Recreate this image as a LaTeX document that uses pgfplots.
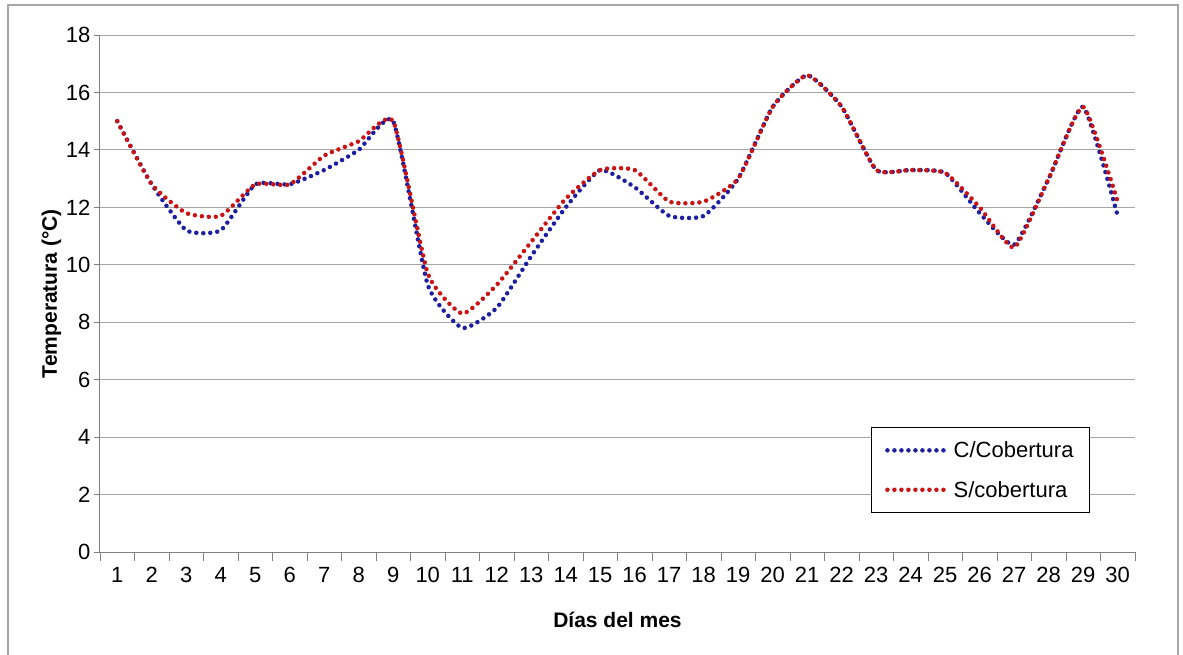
\documentclass[border=0pt]{standalone}
\usepackage{pgfplots}
\pgfplotsset{compat=1.18}
\usepackage{fontspec}
\setmainfont{Liberation Sans}
\begin{document}
\begin{tikzpicture}
\definecolor{bl}{RGB}{30,30,160}
\definecolor{rd}{RGB}{200,20,20}
\useasboundingbox (-100pt,-102pt) rectangle (1083pt,552pt);
\draw[gray!70, line width=2pt] (-92pt,-110pt) -- (-92pt,547pt) -- (1078pt,547pt) -- (1078pt,-110pt);
\begin{axis}[at={(0,0)},anchor=origin,
 width=1035pt,height=517pt,scale only axis,
 xmin=0.5,xmax=30.5,ymin=0,ymax=18,
 ytick={0,2,...,18},
 xtick={1,...,30},
 minor xtick={0.5,1.5,...,30.5},
 major x tick style={draw=none},
 minor x tick style={gray},
 tick align=outside,
 major tick length=6pt, minor tick length=9pt,
 ymajorgrids, grid style={gray!70,line width=1pt},
 axis x line*=bottom, axis y line*=left,
 axis line style={gray,line width=1pt},
 ytick style={gray,line width=1pt},
 tick label style={font=\fontsize{22}{26}\selectfont},
 xticklabel style={yshift=-6pt},
 /pgf/number format/assume math mode=true,
 xlabel={\textbf{Días del mes}}, ylabel={\textbf{Temperatura (°C)}},
 label style={font=\fontsize{21}{25}\selectfont},
 xlabel style={yshift=-22pt},
 ylabel style={yshift=-2pt},
 legend style={at={(1035pt-45pt,39pt)},anchor=south east,draw=black,line width=1pt,font=\fontsize{22}{26}\selectfont,row sep=18pt,inner xsep=14pt,inner ysep=12pt},
 legend image code/.code={\draw[#1] (0pt,0pt) -- (62pt,0pt);},
 legend cell align=left,
 every axis plot/.append style={line width=4.5pt, dash pattern=on 0pt off 7pt, line cap=round, smooth, tension=0.3},
]
\addplot[bl] coordinates {
(1,15)(2,12.8)(3,11.2)(4,11.2)(5,12.8)(6,12.8)(7,13.3)(8,14)(9,15)(10,9.3)(11,7.8)(12,8.5)(13,10.3)(14,12)(15,13.3)(16,12.7)(17,11.7)(18,11.7)(19,13)(20,15.5)(21,16.6)(22,15.5)(23,13.3)(24,13.3)(25,13.2)(26,11.8)(27,10.7)(28,13)(29,15.5)(30,11.7)};
\addlegendentry{C/Cobertura}
\addplot[rd] coordinates {
(1,15)(2,12.8)(3,11.8)(4,11.7)(5,12.8)(6,12.8)(7,13.8)(8,14.3)(9,15)(10,9.7)(11,8.3)(12,9.3)(13,10.8)(14,12.3)(15,13.3)(16,13.3)(17,12.2)(18,12.2)(19,13)(20,15.5)(21,16.6)(22,15.5)(23,13.3)(24,13.3)(25,13.2)(26,12)(27,10.6)(28,13)(29,15.5)(30,12.2)};
\addlegendentry{S/cobertura}
\end{axis}
\end{tikzpicture}
\end{document}
